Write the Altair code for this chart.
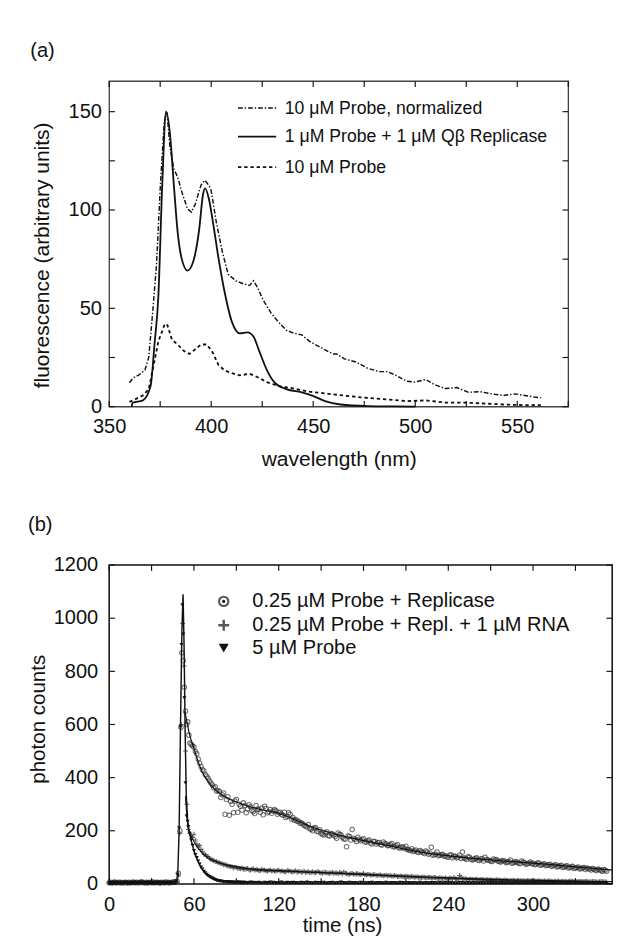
import altair as alt
import pandas as pd

FONT = "Liberation Sans"
INK = "#111111"

# ---------------- panel (a): emission spectra ----------------
norm_nm = [359.9, 361.8, 364.6, 367.5, 369.4, 371.3, 373.2, 375.1, 377.0, 378.3, 379.8, 381.7,
           383.6, 385.5, 388.4, 390.3, 392.2, 395.0, 397.0, 399.8, 402.6, 405.5, 408.3, 412.1,
           415.9, 418.8, 420.7, 422.6, 425.4, 429.2, 433.0, 436.8, 440.6, 444.4, 448.2, 453.9,
           459.6, 461.5, 465.3, 471.0, 476.7, 482.4, 486.2, 490.0, 495.7, 499.5, 505.2, 509.0,
           514.7, 520.4, 526.1, 531.8, 537.5, 543.2, 548.9, 553.7, 558.4, 561.5]
norm_val = [12.2, 14.6, 16.2, 18.6, 25.1, 47.8, 72.2, 112.7, 145.0, 150.0, 132.0, 120.8,
            116.7, 109.5, 100.5, 98.9, 103.0, 112.7, 115.1, 111.0, 93.2, 78.6, 67.3, 64.0,
            62.4, 61.6, 64.0, 60.8, 54.3, 47.8, 43.0, 38.9, 37.3, 36.5, 33.2, 30.0,
            26.8, 26.8, 24.3, 22.7, 19.5, 17.8, 17.8, 16.2, 13.0, 12.5, 13.8, 11.4,
            9.2, 9.7, 7.3, 7.6, 6.5, 5.7, 6.5, 5.7, 4.9, 4.5]

solid_nm = [361.0, 361.5, 366.5, 370.3, 372.2, 374.1, 376.0, 377.9, 379.8, 381.7, 383.6, 385.5,
            388.4, 391.2, 394.1, 396.0, 397.0, 398.8, 400.7, 403.6, 406.4, 410.2, 414.0, 417.8,
            420.7, 423.5, 427.3, 431.1, 436.8, 444.4, 450.1, 455.8, 463.4, 476.7, 490.0, 500.0]
solid_val = [0.0, 2.0, 3.2, 10.5, 31.6, 56.0, 112.7, 150.0, 138.6, 112.7, 88.4, 75.4,
             69.2, 73.8, 90.0, 108.0, 111.0, 106.0, 94.9, 75.4, 59.2, 43.0, 37.3, 37.8,
             35.7, 28.4, 18.6, 12.2, 8.9, 7.3, 5.4, 2.8, 1.1, 0.3, 0.1, 0.0]

dash_nm = [359.9, 362.7, 366.5, 369.4, 371.3, 374.1, 377.0, 378.3, 380.8, 383.6, 386.5, 389.3,
           392.2, 395.0, 397.9, 400.7, 403.6, 406.4, 410.2, 414.0, 418.8, 422.6, 427.3, 433.0,
           440.6, 448.2, 457.7, 467.2, 476.7, 486.2, 495.7, 505.2, 514.7, 524.2, 533.7, 543.2,
           552.7, 561.5]
dash_val = [2.4, 3.7, 5.7, 8.9, 18.6, 33.2, 41.3, 42.2, 34.0, 31.6, 28.4, 26.8,
            29.2, 31.6, 31.6, 27.6, 21.1, 18.6, 17.0, 15.9, 16.7, 15.1, 12.5, 10.5,
            9.2, 7.6, 6.5, 5.4, 4.4, 3.7, 2.8, 3.2, 2.1, 2.1, 1.6, 1.1,
            0.8, 0.8]

legend_a = ["10 \u03bcM Probe, normalized",
            "1 \u03bcM Probe + 1 \u03bcM Q\u03b2 Replicase",
            "10 \u03bcM Probe"]
xticks_a = [350, 375, 400, 425, 450, 475, 500, 525, 550, 575]
yticks_a = [0, 25, 50, 75, 100, 125, 150]
xlabels_a = [350, 400, 450, 500, 550]
ylabels_a = [0, 50, 100, 150]

# ---------------- panel (b): fluorescence decays ----------------
base_t = list(range(0, 48))
circ_base = [4, 6, 3, 5, 7, 4, 5, 6, 3, 5, 4, 6, 5, 3, 6, 4, 5, 7, 4, 5, 6, 4, 5, 8,
             5, 4, 6, 3, 5, 6, 4, 7, 5, 4, 6, 5, 3, 6, 5, 4, 7, 5, 6, 4, 5, 6, 8, 7]
plus_base = [3, 5, 4, 6, 4, 3, 5, 4, 6, 5, 3, 4, 6, 4, 5, 3, 5, 4, 6, 4, 3, 5, 6, 4,
             5, 4, 3, 6, 4, 5, 5, 3, 4, 6, 5, 4, 3, 5, 4, 6, 4, 5, 3, 4, 6, 5, 4, 6]
tri_base = [2, 4, 3, 3, 5, 2, 4, 3, 4, 2, 3, 5, 3, 4, 2, 4, 3, 3, 5, 3, 4, 2, 4, 6,
            3, 4, 2, 3, 5, 3, 4, 3, 2, 4, 3, 5, 3, 4, 3, 2, 4, 3, 5, 3, 4, 3, 4, 5]

circ_peak_t = [48.0, 49.0, 50.0, 50.8, 51.5, 52.4, 53.2, 54.0, 54.8, 55.6, 56.4, 57.2]
circ_peak_v = [10, 40, 200, 590, 870, 840, 740, 650, 600, 610, 560, 530]
plus_peak_t = [48.0, 49.0, 50.0, 51.0, 52.0, 53.0, 54.0, 55.0]
plus_peak_v = [8, 30, 190, 600, 980, 820, 500, 300]
tri_peak_t = [47.5, 48.5, 49.5, 50.5, 51.2, 51.8, 52.5, 53.2, 54.0, 54.8, 55.5]
tri_peak_v = [10, 35, 210, 590, 900, 1050, 940, 700, 380, 255, 235]

circ_tail_t = list(range(58, 353, 2))
circ_tail = [525, 515, 490, 455, 430, 412, 398, 380, 362, 350,
             348, 336, 262, 328, 310, 268, 318, 300, 278, 295,
             282, 290, 272, 295, 280, 286, 292, 268, 280, 274,
             275, 268, 262, 270, 255, 262, 250, 242, 236, 230,
             220, 214, 208, 200, 212, 196, 190, 184, 196, 180,
             188, 178, 192, 185, 170, 140, 178, 205, 168, 176,
             162, 170, 158, 165, 150, 160, 155, 148, 158, 150,
             145, 152, 140, 148, 135, 138, 142, 128, 132, 125,
             120, 126, 118, 124, 112, 138, 110, 120, 108, 112,
             106, 100, 110, 104, 98, 108, 120, 96, 102, 94,
             92, 98, 88, 95, 100, 90, 86, 94, 92, 84,
             88, 86, 82, 90, 80, 84, 78, 86, 80, 76,
             82, 78, 74, 80, 72, 76, 70, 74, 68, 72,
             66, 70, 64, 68, 62, 66, 60, 64, 58, 62,
             60, 56, 58, 52, 56, 50, 54, 48]
circ_odd_t = list(range(59, 352, 2))
circ_odd = [520, 498, 470, 442, 425, 405, 388, 372, 366, 352,
            325, 342, 318, 258, 300, 312, 270, 292, 305, 268,
            298, 276, 265, 282, 270, 260, 284, 272, 266, 280,
            262, 270, 258, 250, 268, 244, 240, 236, 228, 226,
            218, 224, 206, 210, 198, 204, 186, 192, 182, 190,
            184, 172, 186, 176, 168, 180, 165, 172, 160, 168,
            166, 158, 162, 154, 160, 150, 156, 146, 152, 144,
            148, 140, 144, 136, 140, 132, 130, 126, 122, 128,
            118, 122, 114, 120, 116, 108, 112, 106, 110, 104,
            102, 108, 98, 104, 100, 96, 98, 92, 100, 90,
            96, 90, 94, 86, 92, 88, 84, 90, 86, 82,
            86, 80, 84, 78, 82, 80, 76, 82, 74, 78,
            76, 72, 78, 70, 74, 68, 72, 66, 70, 64,
            68, 62, 66, 60, 64, 58, 62, 56, 60, 54,
            58, 52, 56, 50, 54, 48, 52]

plus_tail_t = list(range(56, 353, 2))
plus_tail = [205, 181, 187, 150, 145, 121, 110, 103, 92, 88,
             85, 79, 76, 73, 68, 66, 61, 62, 58, 60,
             55, 58, 52, 57, 54, 50, 55, 52, 48, 53,
             50, 47, 52, 49, 46, 51, 48, 45, 50, 46,
             44, 48, 45, 42, 46, 43, 47, 41, 44, 42,
             40, 44, 41, 38, 42, 45, 39, 36, 40, 37,
             38, 35, 39, 34, 36, 33, 35, 32, 34, 30,
             33, 31, 29, 32, 28, 30, 27, 29, 26, 28,
             25, 27, 24, 26, 23, 25, 22, 24, 21, 23,
             20, 22, 19, 21, 24, 19, 32, 18, 20, 17,
             19, 16, 18, 15, 17, 14, 16, 15, 13, 16,
             14, 12, 15, 13, 12, 14, 11, 13, 12, 10,
             13, 11, 12, 10, 12, 9, 11, 10, 12, 9,
             10, 11, 9, 10, 8, 11, 9, 10, 8, 9,
             8, 10, 7, 9, 8, 7, 9, 8, 7]
plus_odd_t = list(range(57, 352, 2))
plus_odd = [190, 175, 165, 140, 130, 112, 104, 96, 90, 84,
            80, 77, 72, 70, 66, 64, 63, 59, 57, 56,
            57, 53, 55, 51, 53, 50, 52, 49, 51, 48,
            49, 51, 47, 48, 45, 49, 46, 47, 44, 47,
            45, 43, 46, 44, 42, 45, 43, 41, 43, 40,
            42, 39, 41, 43, 38, 40, 37, 39, 36, 38,
            36, 37, 34, 36, 33, 35, 32, 33, 31, 32,
            30, 32, 29, 30, 28, 29, 27, 28, 26, 27,
            26, 25, 24, 25, 23, 24, 22, 23, 21, 22,
            21, 20, 22, 19, 20, 18, 26, 19, 18, 17,
            17, 18, 16, 17, 15, 16, 14, 15, 14, 15,
            14, 13, 14, 12, 13, 12, 13, 11, 12, 11,
            12, 11, 11, 10, 11, 10, 10, 11, 9, 10,
            10, 9, 10, 9, 9, 10, 8, 9, 9, 8,
            9, 8, 8, 9, 7, 8, 8, 7]

tri_tail_t = list(range(56, 353, 2))
tri_tail = [215, 165, 125, 98, 74, 55, 41, 31, 24, 18,
            14, 11, 9, 8, 7, 6, 6, 5, 6, 5,
            5, 4, 6, 5, 4, 5, 3, 5, 4, 6,
            5, 4, 4, 6, 3, 5, 4, 5, 4, 3,
            5, 4, 6, 4, 3, 5, 4, 4, 5, 3,
            4, 5, 3, 4, 6, 4, 3, 5, 4, 4,
            3, 5, 4, 3, 4, 5, 3, 4, 4, 3,
            5, 3, 4, 4, 3, 5, 4, 3, 4, 3,
            4, 3, 5, 3, 4, 3, 4, 4, 3, 5,
            3, 4, 3, 4, 3, 3, 5, 4, 3, 4,
            3, 4, 3, 3, 4, 3, 5, 3, 4, 3,
            3, 4, 3, 4, 3, 3, 4, 3, 3, 4,
            3, 3, 4, 3, 4, 3, 3, 4, 3, 3,
            4, 3, 3, 4, 3, 3, 4, 3, 3, 4,
            3, 3, 4, 3, 3, 4, 3, 3, 3]
tri_odd_t = list(range(57, 96, 2))
tri_odd = [190, 145, 110, 85, 63, 47, 35, 27, 21, 16,
           12, 10, 8, 7, 7, 6, 5, 6, 5, 5]

circ_fit_t = [53.5, 55, 57, 60, 63, 66, 70, 75, 80, 85, 90, 100, 110, 120, 130, 140, 150, 160,
              170, 180, 190, 200, 210, 220, 230, 240, 250, 260, 270, 280, 290, 300, 310, 320,
              330, 340, 350, 356]
circ_fit_v = [650, 610, 560, 510, 460, 420, 385, 355, 335, 320, 308, 290, 277, 265, 245, 222, 203, 188,
              175, 163, 152, 142, 130, 120, 112, 106, 100, 95, 90, 86, 82, 78, 74, 69,
              64, 60, 55, 52]
plus_fit_t = [54, 56, 58, 60, 62, 64, 66, 68, 70, 72, 75, 80, 85, 90, 100, 110, 120, 140, 160, 180,
              200, 220, 240, 260, 280, 300, 320, 340, 356]
plus_fit_v = [330, 205, 180, 160, 142, 128, 116, 106, 98, 92, 86, 76, 70, 65, 57, 53, 50, 45, 40, 36,
              31, 27, 23, 19, 16, 14, 12, 10, 9]
tri_fit_t = [0, 47, 48.5, 49.5, 50.5, 51.5, 52.3, 53, 53.8, 54.6, 55.5, 56.5, 58, 60, 62, 64, 66, 68,
             70, 73, 76, 80, 85, 90, 100, 120, 150, 200, 250, 300, 356]
tri_fit_v = [3, 3, 30, 200, 600, 960, 1090, 900, 560, 330, 240, 205, 165, 125, 96, 72, 54, 40,
             30, 20, 13, 9, 6, 5, 4, 3.5, 3, 2.5, 2, 2, 2]

legend_b = ["0.25 \u00b5M Probe + Replicase",
            "0.25 \u00b5M Probe + Repl. + 1 \u00b5M RNA",
            "5 \u00b5M Probe"]
xticks_b = [0, 30, 60, 90, 120, 150, 180, 210, 240, 270, 300, 330]
yticks_b = [0, 200, 400, 600, 800, 1000, 1200]
xlabels_b = [0, 60, 120, 180, 240, 300]
ylabels_b = [0, 200, 400, 600, 800, 1000, 1200]

one = pd.DataFrame({"k": [0]})
PLUS = "M-1,0L1,0M0,-1L0,1"

# ================= build panel (a) =================
Wa, Ha = 481, 341
xa = alt.Scale(domain=[350, 575], nice=False, zero=False)
ya = alt.Scale(domain=[0, 165.5], nice=False, zero=False)
axis_xa = alt.Axis(values=xlabels_a, ticks=False, tickSize=0, domain=False, grid=False,
                   labelFlush=False, labelOverlap=False, labelFont=FONT, labelFontSize=21,
                   labelColor=INK, labelPadding=10, title="wavelength (nm)", titleFont=FONT,
                   titleFontSize=22, titleFontWeight="normal", titleColor=INK,
                   titleBaseline="middle", titleY=55)
axis_ya = alt.Axis(values=ylabels_a, ticks=False, tickSize=0, domain=False, grid=False,
                   labelFlush=False, labelOverlap=False, labelFont=FONT, labelFontSize=21,
                   labelColor=INK, labelPadding=8, title="fluorescence (arbitrary units)",
                   titleFont=FONT, titleFontSize=22, titleFontWeight="normal", titleColor=INK,
                   titleAngle=270, titleBaseline="middle", titleAlign="center",
                   titleX=-71, titleY=182)


def curve(nm, val, width, interp, dash=None):
    df = pd.DataFrame({"nm": nm, "val": val})
    kw = dict(color=INK, strokeWidth=width, interpolate=interp)
    if dash:
        kw["strokeDash"] = dash
    return alt.Chart(df).mark_line(**kw).encode(
        x=alt.X("nm:Q", scale=xa, axis=axis_xa),
        y=alt.Y("val:Q", scale=ya, axis=axis_ya))


a_layers = [
    curve(dash_nm, dash_val, 1.9, "linear", [3.5, 3]),
    curve(norm_nm, norm_val, 1.5, "linear", [5, 2, 1.5, 2]),
    curve(solid_nm, solid_val, 1.9, "monotone"),
]
txa = pd.DataFrame({"t": xticks_a})
tya = pd.DataFrame({"v": yticks_a})
a_layers += [
    alt.Chart(txa).mark_rule(color=INK, strokeWidth=1.2).encode(
        x=alt.X("t:Q", scale=xa, axis=axis_xa), y=alt.value(0), y2=alt.value(6)),
    alt.Chart(txa).mark_rule(color=INK, strokeWidth=1.2).encode(
        x=alt.X("t:Q", scale=xa, axis=axis_xa), y=alt.value(Ha - 6), y2=alt.value(Ha)),
    alt.Chart(tya).mark_rule(color=INK, strokeWidth=1.2).encode(
        y=alt.Y("v:Q", scale=ya, axis=axis_ya), x=alt.value(0), x2=alt.value(6)),
    alt.Chart(tya).mark_rule(color=INK, strokeWidth=1.2).encode(
        y=alt.Y("v:Q", scale=ya, axis=axis_ya), x=alt.value(Wa - 6), x2=alt.value(Wa)),
]
leg_styles = [(1.5, [5, 2, 1.5, 2]), (1.9, None), (1.9, [3.5, 3])]
leg_rows = [28, 58, 90]
for (w, dsh), row, lbl in zip(leg_styles, leg_rows, legend_a):
    kw = dict(color=INK, strokeWidth=w)
    if dsh:
        kw["strokeDash"] = dsh
    a_layers.append(alt.Chart(one).mark_rule(**kw).encode(
        x=alt.value(135), x2=alt.value(175), y=alt.value(row)))
    a_layers.append(alt.Chart(one).mark_text(
        text=lbl, align="left", baseline="middle", font=FONT, fontSize=18.5, color=INK).encode(
        x=alt.value(184), y=alt.value(row)))
a_layers.append(alt.Chart(one).mark_text(
    text="(a)", align="left", baseline="middle", font=FONT, fontSize=21, color=INK).encode(
    x=alt.value(-82.7), y=alt.value(-31)))
a_layers.append(alt.Chart(one).mark_rule(color="white", strokeWidth=1).encode(
    x=alt.value(-104.7), y=alt.value(-52), y2=alt.value(410)))

panel_a = alt.layer(*a_layers).properties(
    width=Wa, height=Ha, view=alt.ViewBackground(stroke="#444444", strokeWidth=1.4))

# ================= build panel (b) =================
Wb, Hb = 527, 334
xb = alt.Scale(domain=[0, 356], nice=False, zero=False)
yb = alt.Scale(domain=[0, 1200], nice=False, zero=False)
axis_xb = alt.Axis(values=xlabels_b, ticks=False, tickSize=0, domain=False, grid=False,
                   labelFlush=False, labelOverlap=False, labelFont=FONT, labelFontSize=21,
                   labelColor=INK, labelPadding=11, title="time (ns)", titleFont=FONT,
                   titleFontSize=21.5, titleFontWeight="normal", titleColor=INK,
                   titleBaseline="middle", titleX=244, titleY=44)
axis_yb = alt.Axis(values=ylabels_b, format="d", ticks=False, tickSize=0, domain=False,
                   grid=False, labelFlush=False, labelOverlap=False, labelFont=FONT,
                   labelFontSize=21, labelColor=INK, labelPadding=12, title="photon counts",
                   titleFont=FONT, titleFontSize=21.5, titleFontWeight="normal", titleColor=INK,
                   titleAngle=270, titleBaseline="middle", titleAlign="center",
                   titleX=-74, titleY=161)


def pts(t, v):
    return pd.DataFrame({"t": t, "v": v})


circ_df = pd.concat([pts(base_t, circ_base), pts(circ_peak_t, circ_peak_v),
                     pts(circ_tail_t, circ_tail), pts(circ_odd_t, circ_odd)])
plus_df = pd.concat([pts(base_t, plus_base), pts(plus_peak_t, plus_peak_v),
                     pts(plus_tail_t, plus_tail), pts(plus_odd_t, plus_odd)])
tri_df = pd.concat([pts(base_t, tri_base), pts(tri_peak_t, tri_peak_v),
                    pts(tri_tail_t, tri_tail), pts(tri_odd_t, tri_odd)])

enc_b = dict(x=alt.X("t:Q", scale=xb, axis=axis_xb), y=alt.Y("v:Q", scale=yb, axis=axis_yb))

b_layers = [
    alt.Chart(circ_df).mark_point(shape="circle", filled=False, size=22, strokeWidth=1.1,
                                  color="#333333").encode(**enc_b),
    alt.Chart(plus_df).mark_point(shape=PLUS, filled=False, size=26, strokeWidth=1.1,
                                  color="#222222").encode(**enc_b),
    alt.Chart(tri_df).mark_point(shape="triangle-down", filled=True, size=18,
                                 color=INK, opacity=1).encode(**enc_b),
    alt.Chart(pts(circ_fit_t, circ_fit_v)).mark_line(color=INK, strokeWidth=1.2,
                                                      interpolate="monotone").encode(**enc_b),
    alt.Chart(pts(plus_fit_t, plus_fit_v)).mark_line(color=INK, strokeWidth=1.2,
                                                      interpolate="monotone").encode(**enc_b),
    alt.Chart(pts(tri_fit_t, tri_fit_v)).mark_line(color=INK, strokeWidth=1.5).encode(**enc_b),
]
txb = pd.DataFrame({"t": xticks_b})
tyb = pd.DataFrame({"v": yticks_b})
b_layers += [
    alt.Chart(txb).mark_rule(color=INK, strokeWidth=1.2).encode(
        x=alt.X("t:Q", scale=xb, axis=axis_xb), y=alt.value(0), y2=alt.value(6)),
    alt.Chart(txb).mark_rule(color=INK, strokeWidth=1.2).encode(
        x=alt.X("t:Q", scale=xb, axis=axis_xb), y=alt.value(Hb - 6), y2=alt.value(Hb)),
    alt.Chart(tyb).mark_rule(color=INK, strokeWidth=1.2).encode(
        y=alt.Y("v:Q", scale=yb, axis=axis_yb), x=alt.value(0), x2=alt.value(6)),
    alt.Chart(tyb).mark_rule(color=INK, strokeWidth=1.2).encode(
        y=alt.Y("v:Q", scale=yb, axis=axis_yb), x=alt.value(Wb - 6), x2=alt.value(Wb)),
]
rows_b = [38, 63, 87]
b_layers += [
    alt.Chart(one).mark_point(shape="circle", filled=False, size=95, strokeWidth=2.2,
                              color=INK).encode(x=alt.value(120), y=alt.value(rows_b[0])),
    alt.Chart(one).mark_point(shape="circle", filled=True, size=10, color=INK, opacity=1).encode(
        x=alt.value(120), y=alt.value(rows_b[0])),
    alt.Chart(one).mark_point(shape=PLUS, filled=False, size=130, strokeWidth=2.5,
                              color=INK).encode(x=alt.value(120), y=alt.value(rows_b[1])),
    alt.Chart(one).mark_point(shape="triangle-down", filled=True, size=110, color=INK,
                              opacity=1).encode(x=alt.value(120), y=alt.value(rows_b[2])),
]
for row, lbl in zip(rows_b, legend_b):
    b_layers.append(alt.Chart(one).mark_text(
        text=lbl, align="left", baseline="middle", font=FONT, fontSize=21, color=INK).encode(
        x=alt.value(150), y=alt.value(row)))
b_layers.append(alt.Chart(one).mark_text(
    text="(b)", align="left", baseline="middle", font=FONT, fontSize=21, color=INK).encode(
    x=alt.value(-85), y=alt.value(-42)))
b_layers.append(alt.Chart(one).mark_rule(color="white", strokeWidth=1).encode(
    x=alt.value(-88), y=alt.value(-93), y2=alt.value(-92)))

panel_b = alt.layer(*b_layers).properties(
    width=Wb, height=Hb, view=alt.ViewBackground(stroke=INK, strokeWidth=1.6))

chart = alt.vconcat(panel_a, panel_b, spacing=0).properties(
    padding=0, background="white"
)

chart.save("out.html", embed_options={"renderer": "svg", "actions": False})
